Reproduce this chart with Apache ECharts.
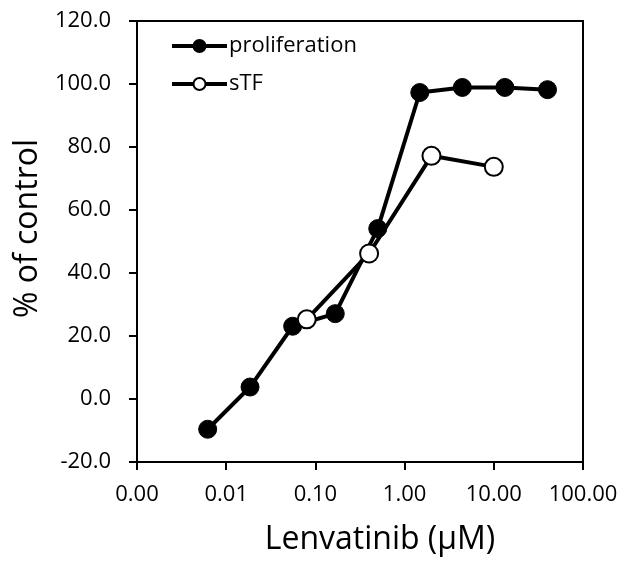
<!DOCTYPE html>
<html>
<head>
<meta charset="utf-8">
<style>
  html, body { margin: 0; padding: 0; background: #fff; }
  #chart { width: 624px; height: 563px; }
</style>
<script src="https://cdn.jsdelivr.net/npm/echarts@6/dist/echarts.min.js"></script>
</head>
<body>
<div id="chart"></div>
<script>
// Lenvatinib dose (uM) and % of control
const prolifDose = [0.0062, 0.0185, 0.0556, 0.167, 0.5, 1.48, 4.44, 13.3, 40];
const prolifVal = [-9.6, 3.8, 23.1, 27.1, 54.1, 97.3, 98.9, 98.9, 98.2];
const stfDose = [0.08, 0.4, 2, 10];
const stfVal = [25.3, 46.2, 77.2, 73.7];
const seriesNames = ["proliferation", "sTF"];

const font = "Open Sans";
const chart = echarts.init(document.getElementById("chart"), null, { renderer: "canvas" });

const pairs = (xs, ys) => xs.map((x, i) => [x, ys[i]]);

const option = {
  backgroundColor: "#fff",
  animation: false,
  grid: {
    left: 137,
    right: 41,
    top: 21,
    bottom: 101,
    show: true,
    borderColor: "#000",
    borderWidth: 2,
  },
  legend: {
    data: seriesNames,
    orient: "vertical",
    left: 165,
    top: 30,
    itemWidth: 55,
    itemHeight: 15,
    itemGap: 16,
    lineStyle: { width: 4 },
    textStyle: { fontFamily: font, fontSize: 22, color: "#000", padding: [0, 0, 0, -3] },
  },
  xAxis: {
    type: "log",
    logBase: 10,
    min: 0.001,
    max: 100,
    name: "Lenvatinib (\u03bcM)",
    nameLocation: "middle",
    nameGap: 62,
    nameTextStyle: { fontFamily: font, fontSize: 32, color: "#000", padding: [0, 0, 0, 40] },
    axisLine: { onZero: false, lineStyle: { color: "#000", width: 2 } },
    axisTick: { inside: false, length: 8, lineStyle: { color: "#000", width: 2 } },
    axisLabel: {
      fontFamily: font,
      fontSize: 22,
      color: "#000",
      margin: 22,
      formatter: (v) => Number(v).toFixed(2),
    },
    splitLine: { show: false },
    minorTick: { show: false },
  },
  yAxis: {
    type: "value",
    min: -20,
    max: 120,
    interval: 20,
    name: "% of control",
    nameLocation: "middle",
    nameGap: 85,
    nameTextStyle: { fontFamily: font, fontSize: 32, color: "#000", padding: [0, 0, 0, 26] },
    axisLine: { show: true, onZero: false, lineStyle: { color: "#000", width: 2 } },
    axisTick: { show: true, inside: false, length: 8, lineStyle: { color: "#000", width: 2 } },
    axisLabel: {
      fontFamily: font,
      fontSize: 22,
      color: "#000",
      margin: 26,
      formatter: (v) => v.toFixed(1),
    },
    splitLine: { show: false },
  },
  series: [
    {
      name: seriesNames[0],
      type: "line",
      data: pairs(prolifDose, prolifVal),
      symbol: "circle",
      symbolSize: 18,
      showAllSymbol: true,
      lineStyle: { color: "#000", width: 4 },
      itemStyle: { color: "#000", borderColor: "#000", borderWidth: 1 },
      z: 2,
    },
    {
      name: seriesNames[1],
      type: "line",
      data: pairs(stfDose, stfVal),
      symbol: "circle",
      symbolSize: 18,
      showAllSymbol: true,
      lineStyle: { color: "#000", width: 4 },
      itemStyle: { color: "#fff", borderColor: "#000", borderWidth: 2 },
      z: 3,
    },
  ],
};

chart.setOption(option);
</script>
</body>
</html>
